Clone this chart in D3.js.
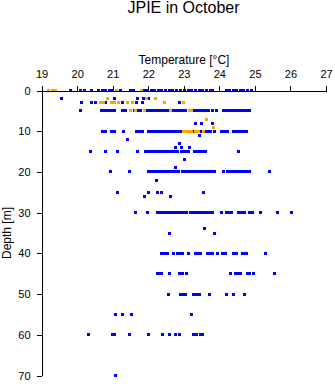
<!DOCTYPE html>
<html><head><meta charset="utf-8">
<script src="https://cdn.jsdelivr.net/npm/d3@7"></script>
<style>
html,body{margin:0;padding:0;background:#fff;}
text{font-family:"Liberation Sans",Arial,sans-serif;fill:#000;}
</style></head>
<body><svg id="c" width="335" height="384"></svg>
<script>
const titleText = "JPIE in October";
const xLabel = "Temperature [\u00B0C]";
const yLabel = "Depth [m]";
const tempTicks = [19,20,21,22,23,24,25,26,27];
const depthTicks = [0,10,20,30,40,50,60,70];

// Blue series: depth levels and the temperatures observed at each
const blueDepths = [0,2,3,5,8,10,11,12,13,14,15,17,19,20,22,25,26,30,34,35,40,45,50,55,60,70];
const blueTemps = [
 [19.82,20.09,20.20,20.41,20.61,20.70,20.80,20.91,21.00,21.21,21.49,21.59,21.90,21.99,22.08,22.18,22.28,22.37,22.48,22.59,22.69,22.80,22.91,23.02,23.12,23.22,23.33,23.43,23.53,23.65,23.75,23.81,24.19,24.29,24.39,24.49,24.59,24.69,24.79,24.91],
 [19.57,21.05,21.69,21.86,22.00],
 [20.12,20.41,20.53,20.81,21.28,21.68,21.84,22.87],
 [20.10,20.68,20.76,20.84,20.92,21.00,21.06,21.28,21.37,21.60,21.72,21.78,21.95,22.01,22.07,22.13,22.19,22.25,22.31,22.37,22.43,22.49,22.55,22.70,22.76,22.82,22.88,22.94,23.00,23.06,23.29,23.35,23.41,23.47,23.53,23.59,23.65,23.70,23.82,23.92,24.12,24.18,24.24,24.30,24.36,24.42,24.48,24.54,24.60,24.66,24.72,24.78,24.84],
 [23.32,23.51,23.82],
 [20.71,20.80,20.96,21.04,21.29,21.67,21.75,21.83,22.00,22.06,22.12,22.18,22.24,22.30,22.36,22.42,22.48,22.54,22.60,22.66,22.72,22.78,22.84,22.90,23.27,23.47,23.62,23.68,23.74,23.86,24.06,24.14,24.22,24.40,24.46,24.52,24.58,24.64,24.70,24.77],
 [23.44],
 [21.41],
 [22.88],
 [22.76,22.94,23.15],
 [20.38,20.81,21.14,21.71,21.93,21.98,22.04,22.10,22.16,22.22,22.28,22.34,22.40,22.46,22.52,22.58,22.64,22.70,22.76,22.82,22.94,23.00,23.06,23.12,23.30,23.36,23.42,23.48,23.54,23.60,24.55],
 [23.03],
 [22.77],
 [20.93,21.46,22.00,22.06,22.12,22.18,22.24,22.30,22.36,22.42,22.48,22.54,22.60,22.66,22.72,22.78,22.84,22.96,23.02,23.08,23.14,23.20,23.26,23.32,23.38,23.44,23.50,23.56,23.62,23.68,23.74,23.80,23.87,24.12,24.24,24.30,24.36,24.42,24.48,24.54,24.60,24.66,24.72,24.78,24.85,25.42],
 [22.22],
 [21.14,22.00,22.26,22.37,23.55],
 [21.89,22.63],
 [21.64,21.99,22.26,22.32,22.38,22.44,22.50,22.56,22.62,22.68,22.74,22.80,22.86,22.92,22.98,23.04,23.09,23.20,23.26,23.32,23.38,23.44,23.50,23.56,23.62,23.68,23.74,23.82,24.06,24.20,24.28,24.35,24.55,24.63,24.72,24.85,24.93,25.15,25.63,26.02],
 [23.57],
 [22.60,23.86],
 [22.37,22.46,22.54,22.70,22.81,22.88,22.95,23.12,23.33,23.40,23.48,23.66,23.74,23.82,23.96,24.09,24.16,24.40,24.47,24.64,24.72,24.76,25.30],
 [22.26,22.34,22.38,22.60,22.89,22.95,23.09,24.30,24.45,24.53,24.60,24.79,24.86,24.97,25.55],
 [22.57,22.90,22.97,23.06,23.27,23.35,23.44,23.72,24.21,24.41,24.71],
 [21.07,21.28,21.53,23.22],
 [20.32,21.00,21.05,21.48,22.01,22.39,22.59,22.77,22.88,23.27,23.35,23.46,23.54],
 [21.07]
];

// Orange series
const orangeDepths = [0,2,3,5,7,9,10];
const orangeTemps = [
 [19.19,19.31,19.39,21.10,21.80],
 [20.85,21.94,22.20],
 [20.65,20.73,20.97,21.04,21.17,21.42,21.55,22.46,22.99],
 [21.51,21.65,21.89,22.62,23.15,23.23],
 [23.63],
 [23.83],
 [22.98,23.06,23.14,23.21,23.33,23.40,23.56]
];

const blueColor = "#0000ff", orangeColor = "#ffa500";

const svg = d3.select("#c");
const x = d3.scaleLinear().domain([19,27]).range([41.6,326]);
const y = d3.scaleLinear().domain([0,70]).range([90.5,375.5]);

function flatten(depths, temps){
  const out = [];
  depths.forEach((d,i)=>temps[i].forEach(t=>out.push({d, t})));
  return out;
}
const bluePts = flatten(blueDepths, blueTemps);
const orangePts = flatten(orangeDepths, orangeTemps);

const ms = 3;
svg.append("g").selectAll("rect").data(bluePts).join("rect")
  .attr("x", p => Math.round(x(p.t) - ms/2)).attr("y", p => Math.round(y(p.d) - ms/2))
  .attr("width", ms).attr("height", ms).attr("fill", blueColor);
svg.append("g").selectAll("rect").data(orangePts).join("rect")
  .attr("x", p => Math.round(x(p.t) - ms/2)).attr("y", p => Math.round(y(p.d) - ms/2))
  .attr("width", ms).attr("height", ms).attr("fill", orangeColor);

const gx = svg.append("g").attr("transform", `translate(0,${y(0)})`)
  .call(d3.axisTop(x).tickValues(tempTicks).tickFormat(d3.format("d")).tickSize(5).tickSizeOuter(0).tickPadding(7.5));
const gy = svg.append("g").attr("transform", `translate(${x(19)},0)`)
  .call(d3.axisLeft(y).tickValues(depthTicks).tickFormat(d3.format("d")).tickSize(5).tickSizeOuter(0).tickPadding(6));
[gx,gy].forEach(g=>{
  g.selectAll("path,line").attr("stroke","#000").attr("stroke-width",1).attr("shape-rendering","crispEdges");
  g.selectAll("text").attr("font-family","Liberation Sans, Arial, sans-serif").attr("font-size",11).attr("fill","#000");
});

svg.append("text").attr("x",183.5).attr("y",13).attr("text-anchor","middle")
  .attr("font-size",16).text(titleText);
svg.append("text").attr("x",184).attr("y",64).attr("text-anchor","middle")
  .attr("font-size",12).text(xLabel);
svg.append("text").attr("transform",`translate(11,233) rotate(-90)`).attr("text-anchor","middle")
  .attr("font-size",12).text(yLabel);
</script></body></html>
